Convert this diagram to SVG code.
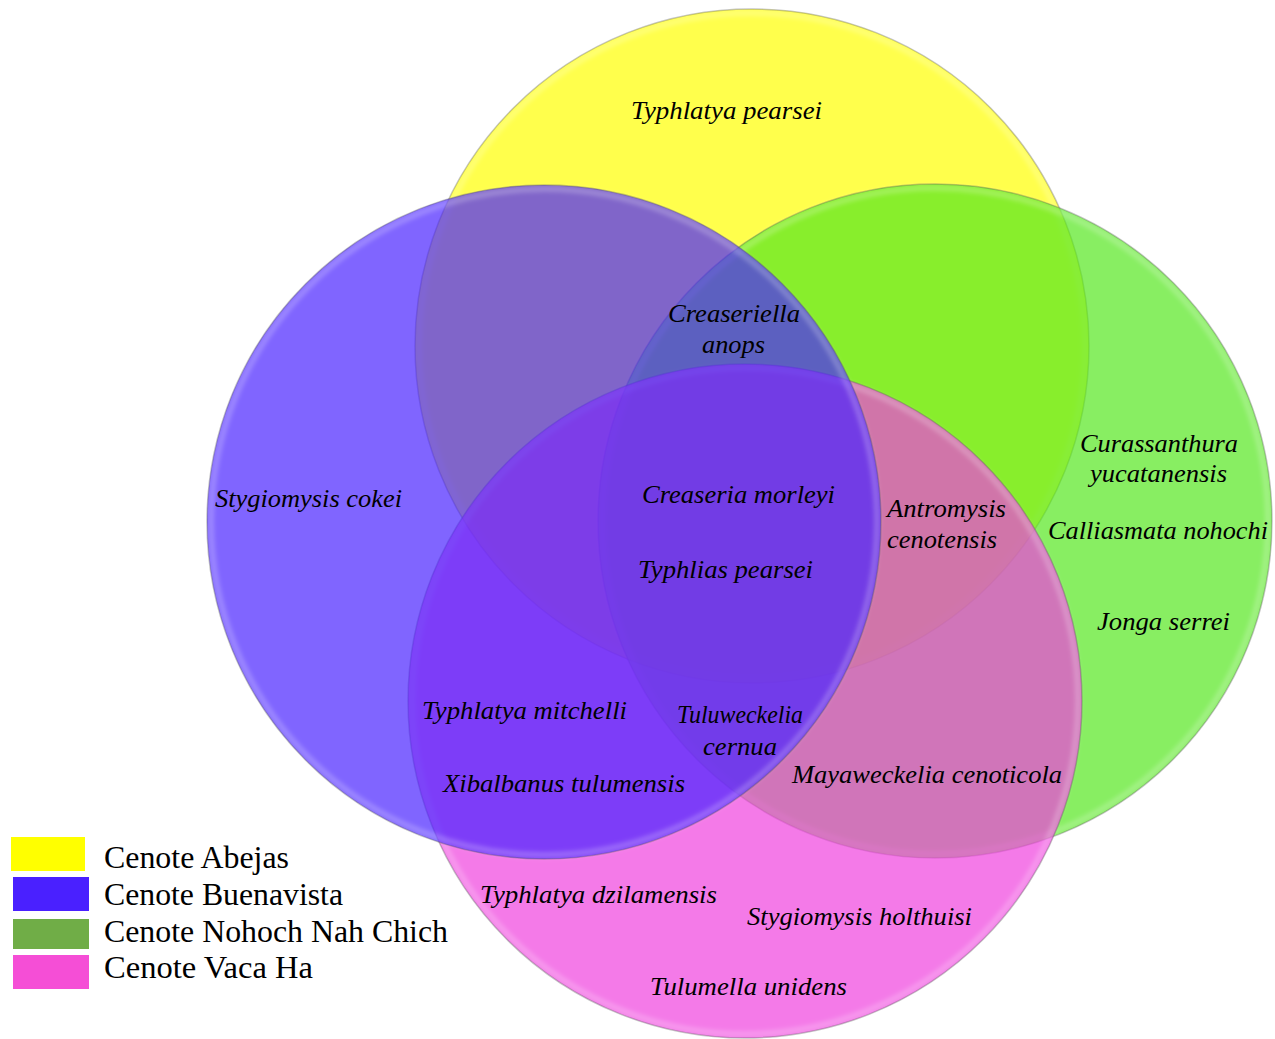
<svg xmlns="http://www.w3.org/2000/svg" width="1275" height="1039" viewBox="0 0 1275 1039">
<style>
.fill{fill-opacity:0.7}
.edge{fill:none;stroke:#5a5a5a;stroke-opacity:0.35;stroke-width:1.5}
.glow{fill:none;stroke:#ffffff;stroke-opacity:0.22;stroke-width:6;filter:url(#soft)}
.sp{font-family:'Liberation Serif','Times New Roman',serif;font-style:italic;font-size:26px;fill:#000}
.lg{font-family:'Liberation Serif','Times New Roman',serif;font-size:31px;fill:#000}
</style>
<defs>
<filter id="soft" x="-10%" y="-10%" width="120%" height="120%"><feGaussianBlur stdDeviation="2"/></filter>
</defs>
<rect width="1275" height="1039" fill="#ffffff"/>
<g id="set-abejas">
<circle class="fill" cx="752" cy="346" r="337" fill="#FFFF00"/>
<circle class="glow" cx="752" cy="346" r="333"/>
<circle class="edge" cx="752" cy="346" r="337"/>
</g>
<g id="set-nohoch">
<circle class="fill" cx="935" cy="521" r="337" fill="#55E71F"/>
<circle class="glow" cx="935" cy="521" r="333"/>
<circle class="edge" cx="935" cy="521" r="337"/>
</g>
<g id="set-vacaha">
<circle class="fill" cx="745" cy="701" r="337" fill="#EF41DE"/>
<circle class="glow" cx="745" cy="701" r="333"/>
<circle class="edge" cx="745" cy="701" r="337"/>
</g>
<g id="set-buenavista">
<circle class="fill" cx="544" cy="522" r="337" fill="#4A24FF"/>
<circle class="glow" cx="544" cy="522" r="333"/>
<circle class="edge" cx="544" cy="522" r="337"/>
</g>
<g id="labels">
<text class="sp" x="631" y="119" textLength="191" lengthAdjust="spacingAndGlyphs">Typhlatya pearsei</text>
<text class="sp" x="668" y="322" textLength="132" lengthAdjust="spacingAndGlyphs">Creaseriella</text>
<text class="sp" x="702" y="353" textLength="63" lengthAdjust="spacingAndGlyphs">anops</text>
<text class="sp" x="215" y="507" textLength="187" lengthAdjust="spacingAndGlyphs">Stygiomysis cokei</text>
<text class="sp" x="642" y="503" textLength="193" lengthAdjust="spacingAndGlyphs">Creaseria morleyi</text>
<text class="sp" x="638" y="578" textLength="175" lengthAdjust="spacingAndGlyphs">Typhlias pearsei</text>
<text class="sp" x="887" y="517" textLength="119" lengthAdjust="spacingAndGlyphs">Antromysis</text>
<text class="sp" x="887" y="548" textLength="110" lengthAdjust="spacingAndGlyphs">cenotensis</text>
<text class="sp" x="1080" y="452" textLength="158" lengthAdjust="spacingAndGlyphs">Curassanthura</text>
<text class="sp" x="1090" y="482" textLength="137" lengthAdjust="spacingAndGlyphs">yucatanensis</text>
<text class="sp" x="1048" y="539" textLength="220" lengthAdjust="spacingAndGlyphs">Calliasmata nohochi</text>
<text class="sp" x="1097" y="630" textLength="133" lengthAdjust="spacingAndGlyphs">Jonga serrei</text>
<text class="sp" x="422" y="719" textLength="205" lengthAdjust="spacingAndGlyphs">Typhlatya mitchelli</text>
<text class="sp" x="677" y="723" textLength="126" lengthAdjust="spacingAndGlyphs">Tuluweckelia</text>
<text class="sp" x="703" y="755" textLength="74" lengthAdjust="spacingAndGlyphs">cernua</text>
<text class="sp" x="443" y="792" textLength="242" lengthAdjust="spacingAndGlyphs">Xibalbanus tulumensis</text>
<text class="sp" x="792" y="783" textLength="270" lengthAdjust="spacingAndGlyphs">Mayaweckelia cenoticola</text>
<text class="sp" x="480" y="903" textLength="237" lengthAdjust="spacingAndGlyphs">Typhlatya dzilamensis</text>
<text class="sp" x="747" y="925" textLength="225" lengthAdjust="spacingAndGlyphs">Stygiomysis holthuisi</text>
<text class="sp" x="650" y="995" textLength="197" lengthAdjust="spacingAndGlyphs">Tulumella unidens</text>
</g>
<g id="legend">
<g id="legend-abejas"><rect x="11" y="837" width="74" height="34" fill="#FFFF00"/><text class="lg" x="104" y="868" textLength="185" lengthAdjust="spacingAndGlyphs">Cenote Abejas</text></g>
<g id="legend-buenavista"><rect x="13" y="877" width="76" height="34" fill="#4A20FF"/><text class="lg" x="104" y="905" textLength="239" lengthAdjust="spacingAndGlyphs">Cenote Buenavista</text></g>
<g id="legend-nohoch"><rect x="13" y="919" width="76" height="30" fill="#70AD47"/><text class="lg" x="104" y="942" textLength="344" lengthAdjust="spacingAndGlyphs">Cenote Nohoch Nah Chich</text></g>
<g id="legend-vacaha"><rect x="13" y="955" width="76" height="34" fill="#F54ED6"/><text class="lg" x="104" y="978" textLength="209" lengthAdjust="spacingAndGlyphs">Cenote Vaca Ha</text></g>
</g>
</svg>
